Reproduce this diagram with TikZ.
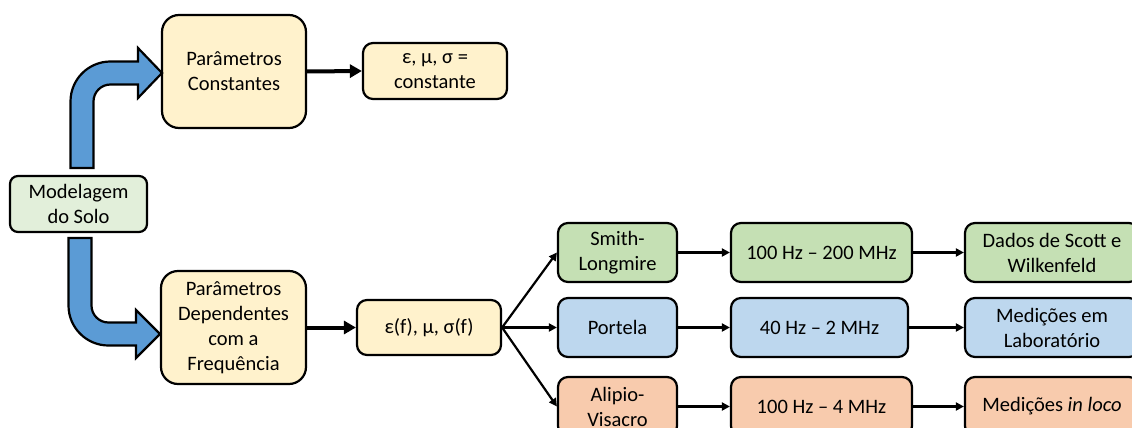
\documentclass[tikz,border=0pt]{standalone}
\usepackage{fontspec}
\setmainfont{Carlito}
\usetikzlibrary{arrows.meta}
\definecolor{verdeclaro}{HTML}{E2EFDA}
\definecolor{amarelo}{HTML}{FFF2CC}
\definecolor{verde}{HTML}{C5E0B4}
\definecolor{azul}{HTML}{BDD7EE}
\definecolor{laranja}{HTML}{F8CBAD}
\definecolor{seta}{HTML}{5B9BD5}

\begin{document}
\begin{tikzpicture}[x=1pt,y=-1pt,
	every node/.style={font=\fontsize{20.5}{25}\selectfont},
	bloco/.style={draw=black, line width=2.2pt, align=center, inner sep=0pt,
		rounded corners=10pt, minimum height=59pt},
	grossa/.style={line width=4pt, -{Triangle[length=12pt,width=13pt]}},
	fina/.style={line width=2.2pt, -{Triangle[length=8pt,width=8pt]}},
	curva/.style={fill=seta, draw=black, line width=2.2pt, line join=miter}]
	%% page size
	\useasboundingbox (0,0) rectangle (1132,428);
	\clip (0,0) rectangle (1132,428);
	
	% left column
	\node[bloco, fill=verdeclaro, minimum width=137pt, minimum height=56pt, rounded corners=8pt] (solo) at (78.5,204) {Modelagem\\do Solo};
	\node[bloco, fill=amarelo, minimum width=144pt, minimum height=113pt, rounded corners=17pt] (const) at (234,71.5) {Parâmetros\\Constantes};
	\node[bloco, fill=amarelo, minimum width=145pt, minimum height=113pt, rounded corners=17pt] (dep) at (233.5,327.5) {Parâmetros\\Dependentes\\com a\\Frequência};
	
	\node[bloco, fill=amarelo, minimum width=144pt, minimum height=56pt] (constval) at (435,71) {ε, μ, σ =\\constante};
	\node[bloco, fill=amarelo, minimum width=144pt, minimum height=55pt] (depval) at (429,327.5) {ε(f), μ, σ(f)};
	
	% models
	\node[bloco, fill=verde, minimum width=119pt] (smith) at (617.5,252.5) {Smith-\\Longmire};
	\node[bloco, fill=azul, minimum width=119pt] (portela) at (617.5,327.5) {Portela};
	\node[bloco, fill=laranja, minimum width=119pt] (alipio) at (617.5,406.5) {Alipio-\\Visacro};
	
	% frequency ranges
	\node[bloco, fill=verde, minimum width=181pt] (faixa1) at (821.5,252.5) {100 Hz – 200 MHz};
	\node[bloco, fill=azul, minimum width=177pt] (faixa2) at (819.5,327.5) {40 Hz – 2 MHz};
	\node[bloco, fill=laranja, minimum width=181pt] (faixa3) at (821.5,406.5) {100 Hz – 4 MHz};
	
	% data sources
	\node[bloco, fill=verde, minimum width=174pt] (dados1) at (1052,252.5) {Dados de Scott e\\Wilkenfeld};
	\node[bloco, fill=azul, minimum width=174pt] (dados2) at (1052,327.5) {Medições em\\Laboratório};
	\node[bloco, fill=laranja, minimum width=174pt] (dados3) at (1052,406.5) {Medições \textit{in loco}};
	
	% bent block arrows
	\filldraw[curva] (70.5,168) -- (70.5,101.5) arc[start angle=180,end angle=270,radius=40]
		-- (138,61.5) -- (138,48) -- (162,73) -- (138,98) -- (138,84.5) -- (110.5,84.5)
		arc[start angle=270,end angle=180,radius=17] -- (93.5,168) -- cycle;
	\filldraw[curva] (68.5,238) -- (68.5,305.5) arc[start angle=180,end angle=90,radius=40]
		-- (136,345.5) -- (136,358) -- (160,334) -- (136,310) -- (136,322.5) -- (108.5,322.5)
		arc[start angle=90,end angle=180,radius=17] -- (91.5,238) -- cycle;
	
	\draw[grossa] (const.east) -- (constval.west);
	\draw[grossa] (dep.east) -- (depval.west);
	
	\draw[fina] (depval.east) -- (smith.west);
	\draw[fina] (depval.east) -- (portela.west);
	\draw[fina] (depval.east) -- (alipio.west);
	
	\draw[fina] (smith.east) -- (faixa1.west);
	\draw[fina] (portela.east) -- (faixa2.west);
	\draw[fina] (alipio.east) -- (faixa3.west);
	\draw[fina] (faixa1.east) -- (dados1.west);
	\draw[fina] (faixa2.east) -- (dados2.west);
	\draw[fina] (faixa3.east) -- (dados3.west);
\end{tikzpicture}
\end{document}
